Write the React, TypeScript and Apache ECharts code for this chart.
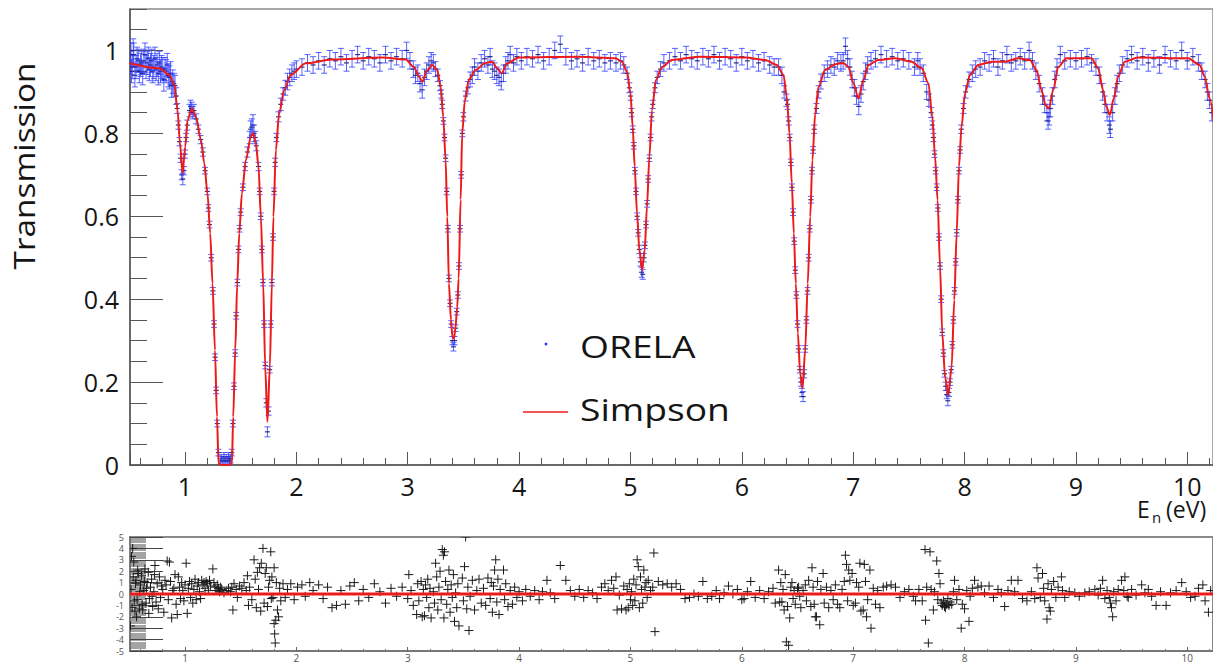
import React, { useEffect, useRef } from "react";
import * as echarts from "echarts";

const xMin = 0.506;
const xMax = 10.231;

const legendNames = ["ORELA", "Simpson"];
const yTitle = "Transmission";
const xTitleParts = ["E", "n", "(eV)"];

// Simpson fit curve (energy in eV, transmission)
const simpsonE = [0.5, 0.769, 0.859, 0.904, 0.933, 0.955, 0.978, 1.002, 1.023, 1.062, 1.098, 1.143, 1.173, 1.202, 1.226, 1.247, 1.269, 1.287, 1.301, 1.33, 1.36, 1.39, 1.421, 1.433, 1.451, 1.469, 1.487, 1.511, 1.547, 1.591, 1.612, 1.636, 1.66, 1.681, 1.702, 1.72, 1.74, 1.762, 1.78, 1.794, 1.816, 1.845, 1.89, 1.95, 2.085, 2.323, 2.772, 2.982, 3.056, 3.101, 3.13, 3.175, 3.22, 3.265, 3.296, 3.319, 3.34, 3.355, 3.37, 3.388, 3.401, 3.415, 3.428, 3.444, 3.457, 3.475, 3.489, 3.513, 3.549, 3.609, 3.699, 3.758, 3.803, 3.843, 3.893, 3.998, 4.536, 4.865, 4.924, 4.969, 5.0, 5.02, 5.038, 5.059, 5.08, 5.104, 5.128, 5.148, 5.17, 5.193, 5.229, 5.283, 5.373, 5.612, 6.031, 6.21, 6.314, 6.374, 6.404, 6.428, 6.449, 6.467, 6.485, 6.503, 6.524, 6.545, 6.569, 6.592, 6.614, 6.634, 6.659, 6.688, 6.748, 6.838, 6.912, 6.957, 7.002, 7.047, 7.092, 7.137, 7.226, 7.376, 7.525, 7.615, 7.675, 7.711, 7.735, 7.758, 7.78, 7.8, 7.825, 7.854, 7.884, 7.908, 7.929, 7.95, 7.973, 8.004, 8.049, 8.123, 8.243, 8.363, 8.482, 8.587, 8.646, 8.691, 8.727, 8.757, 8.796, 8.841, 8.915, 9.139, 9.2, 9.244, 9.274, 9.304, 9.34, 9.379, 9.439, 9.558, 10.007, 10.112, 10.156, 10.201, 10.25];
const simpsonT = [0.969, 0.957, 0.941, 0.917, 0.856, 0.776, 0.704, 0.768, 0.832, 0.86, 0.84, 0.784, 0.728, 0.655, 0.559, 0.438, 0.277, 0.116, 0.004, 0.0, 0.0, 0.0, 0.004, 0.116, 0.277, 0.438, 0.559, 0.655, 0.736, 0.792, 0.8, 0.776, 0.72, 0.599, 0.438, 0.237, 0.104, 0.237, 0.438, 0.599, 0.76, 0.848, 0.904, 0.941, 0.969, 0.978, 0.983, 0.978, 0.96, 0.937, 0.925, 0.952, 0.965, 0.953, 0.912, 0.84, 0.736, 0.599, 0.438, 0.35, 0.31, 0.305, 0.33, 0.38, 0.45, 0.64, 0.8, 0.88, 0.93, 0.953, 0.97, 0.973, 0.957, 0.945, 0.969, 0.983, 0.985, 0.981, 0.973, 0.949, 0.897, 0.816, 0.72, 0.607, 0.519, 0.47, 0.519, 0.622, 0.743, 0.856, 0.929, 0.96, 0.977, 0.985, 0.983, 0.977, 0.965, 0.941, 0.888, 0.8, 0.679, 0.559, 0.438, 0.318, 0.221, 0.185, 0.277, 0.438, 0.599, 0.736, 0.848, 0.912, 0.953, 0.967, 0.97, 0.96, 0.921, 0.884, 0.929, 0.965, 0.977, 0.981, 0.973, 0.957, 0.921, 0.84, 0.744, 0.639, 0.478, 0.318, 0.213, 0.169, 0.237, 0.398, 0.559, 0.72, 0.816, 0.897, 0.941, 0.965, 0.973, 0.973, 0.981, 0.977, 0.953, 0.904, 0.868, 0.86, 0.904, 0.96, 0.981, 0.981, 0.957, 0.904, 0.864, 0.844, 0.884, 0.937, 0.973, 0.983, 0.981, 0.965, 0.937, 0.884, 0.8];

// ORELA measured points: [energy, transmission, error]
const orela: [number, number, number][] = [
  [0.51, 0.97, 0.028], [0.515, 0.99, 0.028], [0.52, 0.95, 0.028], [0.53, 0.96, 0.028], [0.535, 1.0, 0.028], [0.54, 0.99, 0.028], [0.55, 0.94, 0.028], [0.56, 0.96, 0.028], [0.57, 0.98, 0.028], [0.58, 0.975, 0.028], [0.59, 0.95, 0.028], [0.60, 0.965, 0.028], [0.61, 0.97, 0.028], [0.62, 0.945, 0.028], [0.63, 0.975, 0.028], [0.64, 0.99, 0.028], [0.65, 0.96, 0.028], [0.66, 0.97, 0.028], [0.67, 0.98, 0.028], [0.68, 0.955, 0.028], [0.69, 0.965, 0.028], [0.70, 0.975, 0.028], [0.71, 0.95, 0.028], [0.72, 0.96, 0.028], [0.73, 0.98, 0.028], [0.74, 0.955, 0.028], [0.75, 0.965, 0.028], [0.76, 0.945, 0.028], [0.77, 0.97, 0.028], [0.78, 0.95, 0.028], [0.79, 0.96, 0.028], [0.80, 0.955, 0.028], [0.81, 0.93, 0.028], [0.82, 0.955, 0.028], [0.83, 0.95, 0.028], [0.84, 0.965, 0.028], [0.85, 0.94, 0.028], [0.86, 0.935, 0.028], [0.87, 0.945, 0.028], [0.88, 0.915, 0.028], [0.89, 0.925, 0.028], [0.90, 0.92, 0.025], [0.91, 0.915, 0.025], [0.92, 0.89, 0.02],
  [0.93, 0.86, 0.012], [0.94, 0.82, 0.01], [0.95, 0.78, 0.01], [0.96, 0.74, 0.01], [0.97, 0.70, 0.012], [0.98, 0.69, 0.014], [0.99, 0.71, 0.01], [1.0, 0.75, 0.01], [1.01, 0.79, 0.01], [1.02, 0.82, 0.012], [1.04, 0.855, 0.015], [1.05, 0.865, 0.015], [1.06, 0.86, 0.015], [1.07, 0.85, 0.015], [1.08, 0.855, 0.015], [1.1, 0.835, 0.012], [1.12, 0.81, 0.01], [1.14, 0.785, 0.01], [1.16, 0.755, 0.01], [1.18, 0.71, 0.008], [1.2, 0.66, 0.008], [1.21, 0.62, 0.008], [1.22, 0.58, 0.008], [1.235, 0.5, 0.008], [1.25, 0.42, 0.008], [1.26, 0.34, 0.008], [1.27, 0.26, 0.008], [1.28, 0.18, 0.008], [1.29, 0.1, 0.008], [1.3, 0.03, 0.008], [1.32, 0.01, 0.01], [1.33, 0.015, 0.01], [1.34, 0.01, 0.01], [1.35, 0.02, 0.01], [1.36, 0.01, 0.01], [1.37, 0.015, 0.01], [1.38, 0.01, 0.01], [1.39, 0.02, 0.01], [1.4, 0.01, 0.01], [1.41, 0.015, 0.01], [1.42, 0.03, 0.008], [1.43, 0.1, 0.008], [1.44, 0.19, 0.008], [1.45, 0.27, 0.008], [1.46, 0.36, 0.008], [1.47, 0.44, 0.008], [1.48, 0.52, 0.008], [1.49, 0.57, 0.008], [1.5, 0.61, 0.008], [1.52, 0.67, 0.008], [1.54, 0.72, 0.01], [1.56, 0.755, 0.012], [1.58, 0.79, 0.015], [1.59, 0.81, 0.02], [1.6, 0.815, 0.02], [1.61, 0.82, 0.025], [1.62, 0.8, 0.02], [1.63, 0.79, 0.015], [1.64, 0.77, 0.012], [1.66, 0.72, 0.01], [1.67, 0.66, 0.008], [1.68, 0.6, 0.008], [1.69, 0.52, 0.008], [1.7, 0.44, 0.008], [1.71, 0.34, 0.008], [1.72, 0.24, 0.008], [1.73, 0.15, 0.01], [1.74, 0.08, 0.012], [1.75, 0.13, 0.01], [1.76, 0.23, 0.008], [1.77, 0.34, 0.008], [1.78, 0.44, 0.008], [1.79, 0.55, 0.008], [1.8, 0.66, 0.008], [1.81, 0.73, 0.01], [1.82, 0.79, 0.01], [1.84, 0.84, 0.012], [1.86, 0.87, 0.015], [1.88, 0.895, 0.015], [1.9, 0.91, 0.018], [1.92, 0.925, 0.02], [1.94, 0.935, 0.02], [1.96, 0.945, 0.02], [1.98, 0.95, 0.02], [2.0, 0.955, 0.02],
  [2.05, 0.96, 0.02], [2.1, 0.97, 0.02], [2.15, 0.965, 0.02], [2.2, 0.975, 0.02], [2.25, 0.965, 0.02], [2.3, 0.98, 0.02], [2.35, 0.975, 0.02], [2.4, 0.985, 0.02], [2.45, 0.97, 0.02], [2.5, 0.98, 0.02], [2.55, 0.99, 0.02], [2.6, 0.975, 0.02], [2.65, 0.985, 0.02], [2.7, 0.98, 0.02], [2.75, 0.97, 0.02], [2.8, 0.99, 0.02], [2.85, 0.975, 0.02], [2.9, 0.985, 0.02], [2.95, 0.98, 0.02], [2.99, 1.0, 0.02], [3.02, 0.975, 0.02], [3.05, 0.955, 0.02], [3.07, 0.94, 0.02], [3.09, 0.945, 0.02], [3.11, 0.92, 0.02], [3.13, 0.905, 0.02], [3.15, 0.935, 0.02], [3.17, 0.95, 0.02], [3.19, 0.965, 0.02], [3.21, 0.975, 0.02], [3.23, 0.97, 0.02], [3.25, 0.955, 0.018], [3.27, 0.94, 0.015], [3.29, 0.915, 0.012], [3.3, 0.895, 0.01], [3.31, 0.87, 0.01], [3.32, 0.83, 0.008], [3.33, 0.79, 0.008], [3.34, 0.74, 0.008], [3.35, 0.66, 0.008], [3.36, 0.57, 0.008], [3.37, 0.45, 0.008], [3.38, 0.39, 0.008], [3.39, 0.34, 0.008], [3.4, 0.3, 0.01], [3.41, 0.285, 0.01], [3.42, 0.3, 0.01], [3.43, 0.33, 0.008], [3.44, 0.37, 0.008], [3.45, 0.41, 0.008], [3.46, 0.48, 0.008], [3.47, 0.57, 0.008], [3.48, 0.7, 0.008], [3.49, 0.8, 0.008], [3.5, 0.84, 0.01], [3.52, 0.89, 0.012], [3.54, 0.91, 0.015], [3.56, 0.93, 0.018], [3.58, 0.94, 0.02], [3.6, 0.96, 0.02], [3.63, 0.95, 0.02], [3.66, 0.97, 0.02], [3.69, 0.98, 0.02], [3.72, 0.965, 0.02], [3.74, 0.985, 0.02], [3.76, 0.955, 0.02], [3.78, 0.95, 0.02], [3.8, 0.94, 0.02], [3.82, 0.935, 0.02], [3.84, 0.925, 0.02], [3.86, 0.945, 0.02], [3.88, 0.965, 0.02], [3.9, 0.975, 0.02], [3.92, 0.99, 0.02], [3.95, 0.97, 0.02], [3.98, 0.985, 0.02],
  [4.02, 0.975, 0.02], [4.07, 0.985, 0.02], [4.12, 0.98, 0.02], [4.17, 0.99, 0.02], [4.22, 0.975, 0.02], [4.27, 0.985, 0.02], [4.32, 1.0, 0.02], [4.37, 1.015, 0.02], [4.42, 0.985, 0.02], [4.47, 0.975, 0.02], [4.52, 0.98, 0.02], [4.57, 0.97, 0.02], [4.62, 0.985, 0.02], [4.67, 0.975, 0.02], [4.72, 0.98, 0.02], [4.77, 0.97, 0.02], [4.82, 0.975, 0.02], [4.87, 0.97, 0.02], [4.91, 0.975, 0.02], [4.94, 0.965, 0.02], [4.97, 0.945, 0.015], [4.99, 0.91, 0.012], [5.0, 0.89, 0.01], [5.01, 0.85, 0.01], [5.02, 0.81, 0.008], [5.03, 0.77, 0.008], [5.04, 0.71, 0.008], [5.05, 0.66, 0.008], [5.06, 0.6, 0.008], [5.07, 0.56, 0.008], [5.08, 0.52, 0.01], [5.09, 0.49, 0.01], [5.1, 0.465, 0.012], [5.11, 0.46, 0.012], [5.12, 0.5, 0.01], [5.13, 0.53, 0.008], [5.14, 0.58, 0.008], [5.15, 0.63, 0.008], [5.16, 0.69, 0.008], [5.17, 0.74, 0.008], [5.18, 0.79, 0.008], [5.19, 0.84, 0.01], [5.2, 0.87, 0.01], [5.22, 0.91, 0.012], [5.24, 0.935, 0.015], [5.27, 0.955, 0.018], [5.3, 0.97, 0.02], [5.35, 0.975, 0.02], [5.4, 0.985, 0.02], [5.45, 0.975, 0.02], [5.5, 0.99, 0.02], [5.55, 0.98, 0.02], [5.6, 0.975, 0.02], [5.65, 0.985, 0.02], [5.7, 0.98, 0.02], [5.75, 0.99, 0.02], [5.8, 0.975, 0.02], [5.85, 0.985, 0.02], [5.9, 0.98, 0.02], [5.95, 0.97, 0.02], [6.0, 0.985, 0.02], [6.05, 0.975, 0.02], [6.1, 0.98, 0.02], [6.15, 0.97, 0.02], [6.2, 0.975, 0.02], [6.25, 0.965, 0.02], [6.29, 0.96, 0.02], [6.33, 0.96, 0.02], [6.36, 0.94, 0.02], [6.38, 0.9, 0.015], [6.4, 0.88, 0.015], [6.41, 0.87, 0.012], [6.42, 0.83, 0.01], [6.43, 0.79, 0.008], [6.44, 0.73, 0.008], [6.45, 0.67, 0.008], [6.46, 0.61, 0.008], [6.47, 0.54, 0.008], [6.48, 0.47, 0.008], [6.49, 0.41, 0.008], [6.5, 0.34, 0.008], [6.51, 0.28, 0.008], [6.52, 0.23, 0.008], [6.53, 0.2, 0.01], [6.54, 0.175, 0.01], [6.55, 0.165, 0.012], [6.56, 0.22, 0.01], [6.57, 0.28, 0.008], [6.58, 0.35, 0.008], [6.59, 0.42, 0.008], [6.6, 0.5, 0.008], [6.61, 0.57, 0.008], [6.62, 0.64, 0.008], [6.63, 0.71, 0.008], [6.64, 0.76, 0.008], [6.65, 0.81, 0.01], [6.67, 0.86, 0.012], [6.69, 0.9, 0.015], [6.71, 0.925, 0.018], [6.74, 0.945, 0.02], [6.77, 0.955, 0.02], [6.8, 0.965, 0.02], [6.83, 0.96, 0.02], [6.86, 0.975, 0.02], [6.89, 0.97, 0.02], [6.91, 0.975, 0.02], [6.93, 1.01, 0.02], [6.95, 0.98, 0.02], [6.97, 0.96, 0.02], [6.99, 0.93, 0.02], [7.01, 0.91, 0.02], [7.03, 0.89, 0.02], [7.05, 0.865, 0.02], [7.07, 0.895, 0.02], [7.09, 0.925, 0.02], [7.11, 0.95, 0.02], [7.13, 0.965, 0.02], [7.16, 0.975, 0.02], [7.2, 0.98, 0.02], [7.25, 0.99, 0.02], [7.3, 0.98, 0.02], [7.35, 0.985, 0.02], [7.4, 0.975, 0.02], [7.45, 0.98, 0.02], [7.5, 0.975, 0.02], [7.55, 0.96, 0.02], [7.58, 0.975, 0.02], [7.6, 0.96, 0.02], [7.63, 0.945, 0.02], [7.66, 0.9, 0.018], [7.68, 0.88, 0.015], [7.7, 0.85, 0.012], [7.71, 0.82, 0.01], [7.72, 0.79, 0.01], [7.73, 0.75, 0.008], [7.74, 0.71, 0.008], [7.75, 0.67, 0.008], [7.76, 0.62, 0.008], [7.77, 0.55, 0.008], [7.78, 0.48, 0.008], [7.79, 0.4, 0.008], [7.8, 0.32, 0.008], [7.81, 0.27, 0.008], [7.82, 0.22, 0.008], [7.83, 0.19, 0.01], [7.84, 0.17, 0.01], [7.85, 0.155, 0.012], [7.86, 0.175, 0.01], [7.87, 0.2, 0.008], [7.88, 0.23, 0.008], [7.89, 0.29, 0.008], [7.9, 0.35, 0.008], [7.91, 0.42, 0.008], [7.92, 0.49, 0.008], [7.93, 0.56, 0.008], [7.94, 0.64, 0.008], [7.95, 0.71, 0.008], [7.96, 0.76, 0.008], [7.97, 0.81, 0.01], [7.99, 0.86, 0.012], [8.01, 0.9, 0.015], [8.04, 0.93, 0.018], [8.07, 0.945, 0.02], [8.1, 0.955, 0.02], [8.14, 0.96, 0.02], [8.18, 0.975, 0.02], [8.22, 0.97, 0.02], [8.26, 0.98, 0.02], [8.3, 0.96, 0.02], [8.34, 0.975, 0.02], [8.38, 0.99, 0.02], [8.42, 0.97, 0.02], [8.46, 0.975, 0.02], [8.5, 0.985, 0.02], [8.54, 0.975, 0.02], [8.58, 1.0, 0.02], [8.61, 0.975, 0.02], [8.64, 0.95, 0.02], [8.67, 0.92, 0.02], [8.7, 0.89, 0.02], [8.72, 0.87, 0.02], [8.74, 0.85, 0.02], [8.75, 0.83, 0.02], [8.76, 0.84, 0.02], [8.77, 0.86, 0.02], [8.79, 0.89, 0.02], [8.81, 0.93, 0.02], [8.83, 0.96, 0.02], [8.86, 0.99, 0.02], [8.9, 0.975, 0.02], [8.95, 0.98, 0.02], [9.0, 0.975, 0.02], [9.05, 0.98, 0.02], [9.1, 0.985, 0.02], [9.14, 0.97, 0.02], [9.18, 0.96, 0.02], [9.21, 0.94, 0.02], [9.24, 0.9, 0.02], [9.26, 0.87, 0.02], [9.28, 0.85, 0.02], [9.3, 0.82, 0.02], [9.31, 0.81, 0.02], [9.33, 0.85, 0.02], [9.35, 0.89, 0.02], [9.37, 0.92, 0.02], [9.39, 0.945, 0.02], [9.42, 0.965, 0.02], [9.46, 0.98, 0.02], [9.5, 0.99, 0.02], [9.55, 0.975, 0.02], [9.6, 0.985, 0.02], [9.65, 0.97, 0.02], [9.7, 0.98, 0.02], [9.75, 0.965, 0.02], [9.8, 0.99, 0.02], [9.85, 0.98, 0.02], [9.9, 0.975, 0.02], [9.95, 1.0, 0.02], [10.0, 0.975, 0.02], [10.05, 0.985, 0.02], [10.1, 0.97, 0.02], [10.13, 0.95, 0.02], [10.16, 0.93, 0.02], [10.18, 0.9, 0.02], [10.2, 0.88, 0.02], [10.22, 0.85, 0.02],
];

// residuals (normalised): [energy, residual]
const residuals: [number, number][] = [
  [0.51, -2.8], [0.515, 0.4], [0.52, 3.3], [0.525, -1.2], [0.53, 4.0], [0.535, 1.5], [0.54, 2.8], [0.545, -0.6], [0.55, -1.5], [0.555, 0.9], [0.56, 1.2], [0.565, -2.0], [0.57, -0.5], [0.575, 2.1], [0.58, 1.8], [0.59, -1.3], [0.595, 0.2], [0.6, 0.8], [0.61, 1.6], [0.615, -0.9], [0.62, -1.4], [0.63, 0.3], [0.635, 1.1], [0.64, 2.2], [0.65, -0.8], [0.655, 0.5], [0.66, 1.0], [0.67, 1.9], [0.675, -1.7], [0.68, -0.4], [0.69, 0.6], [0.7, 1.3], [0.705, -0.2], [0.71, -1.1], [0.72, 0.2], [0.725, 1.7], [0.73, 2.5], [0.74, -0.7], [0.75, 0.9], [0.76, -1.3], [0.77, 1.5], [0.78, -0.3], [0.79, 0.7], [0.8, 0.4], [0.81, -1.6], [0.82, 1.2], [0.83, 0.8], [0.84, 2.9], [0.85, -0.5], [0.86, 2.8], [0.87, 1.1], [0.88, -2.1], [0.89, 0.3], [0.9, 0.5], [0.91, 1.7], [0.92, -0.9], [0.93, -1.8], [0.94, 1.5], [0.95, 0.6], [0.96, -0.4], [0.97, 1.0], [0.98, 0.3], [0.99, -0.6], [1.0, 0.8], [1.01, 2.7], [1.02, -1.7], [1.03, 0.5], [1.04, 1.1], [1.05, -0.3], [1.06, 0.9], [1.07, -0.8], [1.08, 0.4], [1.09, 1.3], [1.1, -0.5], [1.11, 0.7], [1.12, 1.0], [1.13, 0.2], [1.14, -0.4], [1.15, 1.2], [1.16, 0.8], [1.17, 1.0], [1.18, 0.5], [1.19, 1.1], [1.2, 0.9], [1.21, 0.3], [1.22, 1.2], [1.23, 0.7], [1.25, 2.2], [1.26, 1.0], [1.27, 0.6], [1.28, 0.3], [1.29, 0.8], [1.3, 0.5], [1.31, 0.2], [1.32, 0.6], [1.33, 0.4], [1.35, 0.1], [1.37, 0.3], [1.39, 0.5], [1.41, 0.2], [1.42, 0.6], [1.43, -1.4], [1.44, 0.9], [1.46, 0.4], [1.47, -0.3], [1.49, 0.7], [1.51, 0.5], [1.53, 1.0], [1.55, 0.3], [1.56, 1.6], [1.57, -1.0], [1.58, 0.6], [1.6, -0.5], [1.62, 3.0], [1.63, 1.3], [1.64, -1.2], [1.65, 1.9], [1.66, 0.4], [1.67, 2.3], [1.68, -1.5], [1.685, 2.7], [1.7, 4.0], [1.71, -0.8], [1.72, 1.8], [1.73, 2.3], [1.74, -1.1], [1.75, 0.6], [1.76, 1.2], [1.77, 3.7], [1.775, -0.4], [1.78, 1.5], [1.8, 2.3], [1.79, -0.3], [1.8, -2.6], [1.805, -3.5], [1.81, -4.3], [1.815, -2.3], [1.82, 1.0], [1.83, -1.4], [1.84, -2.0], [1.85, 0.5], [1.86, -0.6], [1.88, 0.9], [1.9, -0.3], [1.92, 0.4], [1.95, 0.9], [1.98, -0.5], [2.01, 0.6], [2.05, 0.8], [2.08, -0.2], [2.12, 1.0], [2.15, 0.3], [2.2, 0.8], [2.24, -0.4], [2.28, 0.6], [2.32, -1.2], [2.36, -1.0], [2.4, 0.3], [2.44, -0.9], [2.48, 0.7], [2.52, 1.0], [2.56, -0.6], [2.6, 0.4], [2.65, -0.3], [2.7, 0.9], [2.75, 0.2], [2.8, -0.8], [2.85, 0.5], [2.9, -0.2], [2.95, 0.6],
  [3.0, -0.4], [3.01, 1.7], [3.03, 0.3], [3.05, -1.0], [3.08, -1.8], [3.09, 0.9], [3.1, -0.6], [3.12, 1.1], [3.13, -2.0], [3.14, 0.4], [3.15, -1.9], [3.16, 0.8], [3.17, -0.3], [3.18, 1.3], [3.19, -1.2], [3.2, 0.5], [3.21, -2.1], [3.25, 2.7], [3.23, 0.2], [3.24, -0.8], [3.26, 1.5], [3.27, -1.4], [3.28, 0.6], [3.29, 2.0], [3.3, -0.5], [3.31, 3.9], [3.32, 3.4], [3.325, -2.1], [3.33, 3.7], [3.34, 1.1], [3.35, -0.9], [3.36, 0.4], [3.37, 2.1], [3.38, -1.6], [3.39, 0.8], [3.4, -0.3], [3.41, 1.7], [3.42, -2.4], [3.43, 0.1], [3.44, -1.2], [3.45, 0.9], [3.46, -2.8], [3.52, 5.0], [3.55, -3.2], [3.49, 1.4], [3.5, -0.6], [3.51, 2.4], [3.53, -1.3], [3.54, 0.6], [3.56, -0.2], [3.58, 1.2], [3.6, -1.4], [3.62, 0.3], [3.64, 1.3], [3.66, -0.8], [3.68, 0.5], [3.7, -1.0], [3.72, 1.4], [3.74, -0.4], [3.79, 3.0], [3.75, 1.0], [3.76, -1.6], [3.77, 0.7], [3.78, 2.1], [3.8, -0.7], [3.81, 1.3], [3.82, -1.8], [3.83, 0.4], [3.86, 2.1], [3.87, -0.5], [3.88, 0.9], [3.9, -1.1], [3.92, 0.3], [3.94, -0.9], [3.96, 0.6], [3.98, -0.3], [4.0, 0.2], [4.03, -0.6], [4.06, 0.4], [4.1, -0.2], [4.14, 0.3], [4.18, -0.5], [4.21, 0.2], [4.25, 1.2], [4.28, 0.1], [4.32, -0.4], [4.37, 2.5], [4.42, 1.2], [4.46, 0.3], [4.5, -0.2], [4.54, 0.4], [4.58, -0.3], [4.62, 0.3], [4.66, 0.1], [4.7, -0.4], [4.74, 0.6], [4.77, 0.9], [4.8, 0.3], [4.83, 1.2], [4.85, 0.5], [4.87, 1.5], [4.88, -1.4], [4.9, -0.1], [4.92, -1.3], [4.94, 0.7], [4.96, -1.4], [4.97, 0.4], [4.98, -1.2], [4.99, 0.9], [5.06, 3.0], [5.0, -0.5], [5.07, 2.4], [5.01, 0.2], [5.02, -1.0], [5.03, 1.3], [5.04, -0.6], [5.05, 0.8], [5.08, -1.2], [5.09, 1.5], [5.1, 0.4], [5.11, -0.8], [5.12, 2.1], [5.13, 0.6], [5.14, 1.0], [5.21, 3.6], [5.15, -0.3], [5.22, -3.3], [5.16, 1.2], [5.18, 0.3], [5.2, 0.6], [5.25, 1.1], [5.29, 0.8], [5.33, 0.9], [5.37, 0.6], [5.41, 0.9], [5.45, 0.4], [5.49, -0.4], [5.53, -0.3], [5.57, 0.0], [5.61, -0.2], [5.65, 1.1], [5.69, -0.4], [5.73, -0.2], [5.77, 0.3], [5.8, -0.4], [5.84, 0.1], [5.88, 0.7], [5.92, 0.0], [5.96, 0.4], [6.0, -0.5], [6.02, -0.4], [6.05, 0.2], [6.08, 1.1], [6.12, -0.3], [6.16, 0.3], [6.2, -0.4], [6.24, 0.2],
  [6.28, 0.5], [6.3, -0.8], [6.33, 2.1], [6.34, -0.7], [6.35, 1.0], [6.36, -0.7], [6.37, 0.4], [6.38, -1.4], [6.39, 1.7], [6.4, -4.2], [6.41, -1.1], [6.42, -4.5], [6.43, -2.1], [6.44, 0.6], [6.45, 1.0], [6.46, -0.4], [6.47, 0.3], [6.48, -0.9], [6.5, 0.5], [6.51, 0.6], [6.52, -0.2], [6.53, -1.2], [6.55, 0.3], [6.57, 0.8], [6.58, -0.6], [6.6, 1.2], [6.62, -1.1], [6.63, 2.3], [6.64, 0.6], [6.65, -0.9], [6.66, -2.0], [6.67, -2.0], [6.68, 1.1], [6.7, -2.7], [6.71, 0.4], [6.73, 1.8], [6.74, -0.8], [6.76, 0.6], [6.78, -1.2], [6.8, 0.3], [6.82, -0.5], [6.84, 0.8], [6.86, -0.9], [6.88, -1.2], [6.9, 0.4], [6.92, 1.1], [6.93, 3.4], [6.94, 2.6], [6.95, -0.6], [6.96, 2.1], [6.97, 1.2], [6.99, 1.8], [7.0, -1.0], [7.02, -0.8], [7.03, 1.0], [7.05, 0.6], [7.06, 2.7], [7.07, -1.5], [7.09, -1.4], [7.1, 2.6], [7.11, 1.1], [7.12, -2.0], [7.13, -0.5], [7.15, 2.1], [7.16, -3.0], [7.18, 0.5], [7.2, -0.9], [7.22, 0.3], [7.24, -1.2], [7.27, 0.6], [7.3, 0.7], [7.34, 0.8], [7.38, 0.6], [7.42, -0.3], [7.46, 0.2], [7.5, 0.4], [7.54, -0.2], [7.56, -0.6], [7.59, 0.4], [7.62, -0.6], [7.645, 3.9], [7.65, -2.3], [7.66, 0.6], [7.675, -4.3], [7.69, 3.7], [7.7, 0.4], [7.72, -1.4], [7.73, 0.2], [7.75, 2.9], [7.76, -0.5], [7.77, 1.8], [7.78, 0.9], [7.79, -0.8], [7.8, -1.0], [7.81, -0.6], [7.82, -1.1], [7.825, -0.8], [7.83, -1.2], [7.84, -0.9], [7.85, -0.4], [7.86, -1.0], [7.87, -0.7], [7.885, -0.9], [7.9, 0.2], [7.91, 1.2], [7.93, -0.5], [7.95, 0.4], [7.97, -3.0], [7.98, -0.9], [8.0, -1.3], [8.02, 0.3], [8.04, -2.4], [8.05, -0.2], [8.07, 0.5], [8.09, 1.2], [8.12, 0.6], [8.15, 0.7], [8.18, 0.1], [8.22, 0.7], [8.26, -0.3], [8.3, 0.4], [8.33, 0.1], [8.36, -1.1], [8.39, 0.3], [8.42, 1.2], [8.45, 0.2], [8.48, 1.2], [8.52, -0.4], [8.56, -0.6], [8.6, 0.2], [8.63, -0.4], [8.65, 2.3], [8.66, 1.4], [8.68, -0.3], [8.7, 1.8], [8.71, 0.5], [8.72, -0.6], [8.74, -2.2], [8.75, 0.9], [8.76, -1.2], [8.77, -1.5], [8.78, 0.4], [8.8, 1.1], [8.82, -0.3], [8.84, 0.6], [8.87, 1.5], [8.88, 0.3], [8.9, -0.3], [8.94, 0.2], [8.99, 0.1], [9.03, -0.2], [9.08, 0.1], [9.12, 0.2], [9.17, 0.4], [9.2, -0.1], [9.22, 0.5], [9.24, 1.2], [9.26, -0.4], [9.28, 0.3], [9.3, -0.3], [9.31, -0.8], [9.32, -1.2], [9.33, -2.0], [9.34, 0.2], [9.36, -0.6], [9.38, 0.4], [9.41, 1.2], [9.43, 0.3], [9.44, 1.5], [9.46, -0.2], [9.47, -0.3], [9.5, 0.4], [9.54, -0.1], [9.59, 0.8], [9.62, 0.1], [9.65, 0.4], [9.68, -0.2], [9.72, -1.0], [9.76, 0.2], [9.81, -1.0], [9.85, 0.1], [9.9, 0.3], [9.95, 1.0], [9.99, 0.2], [10.03, -0.3], [10.07, -0.2], [10.1, 0.5], [10.14, 0.8], [10.16, -0.6], [10.19, -1.6], [10.21, 0.3],
];

const residualFit: [number, number][] = [[xMin, 0], [xMax, 0]];

const FONT = "'Open Sans', 'Noto Sans', sans-serif";

export default function App() {
  const ref = useRef<HTMLDivElement>(null);

  useEffect(() => {
    const chart = echarts.init(ref.current as HTMLDivElement, undefined, { renderer: "svg" });

    const simpsonData = simpsonE.map((e, i) => [e, simpsonT[i]]);

    const axisLineStyle = { color: "#555", width: 1.5 };

    const option: any = {
      animation: false,
      backgroundColor: "#fff",
      grid: [
        { left: 130, top: 9, width: 1083, height: 456, show: true, borderColor: "#8a8a8a", borderWidth: 1.5, backgroundColor: "transparent" },
        { left: 130, top: 537, width: 1083, height: 114, show: true, borderColor: "#8a8a8a", borderWidth: 2, backgroundColor: "transparent" },
      ],
      xAxis: [
        {
          type: "value", gridIndex: 0, min: xMin, max: xMax, splitNumber: 10, minInterval: 1, maxInterval: 1,
          axisLine: { show: true, onZero: false, lineStyle: axisLineStyle },
          axisTick: { show: true, inside: true, length: 13, lineStyle: { color: "#555", width: 1 } },
          minorTick: { show: true, splitNumber: 5, length: 7, lineStyle: { color: "#555", width: 1 } },
          splitLine: { show: false },
          axisLabel: { fontSize: 25, lineHeight: 22, color: "#151515", margin: 10, fontFamily: FONT, showMinLabel: false, showMaxLabel: false },
        },
        {
          type: "value", gridIndex: 1, min: xMin, max: xMax, splitNumber: 10, minInterval: 1, maxInterval: 1,
          axisLine: { show: true, onZero: false, lineStyle: { color: "#777", width: 2 } },
          axisTick: { show: true, inside: true, length: 4, lineStyle: { color: "#666", width: 1 } },
          minorTick: { show: true, splitNumber: 5, length: 2, lineStyle: { color: "#777", width: 1 } },
          splitLine: { show: false },
          axisLabel: { fontSize: 10, color: "#555", margin: 2, fontFamily: FONT, showMinLabel: false, showMaxLabel: false },
        },
      ],
      yAxis: [
        {
          type: "value", gridIndex: 0, min: 0, max: 1.1, interval: 0.2,
          axisLine: { show: true, lineStyle: axisLineStyle },
          axisTick: { show: true, inside: true, length: 33, lineStyle: { color: "#555", width: 1 } },
          splitLine: { show: false },
          axisLabel: { fontSize: 25, color: "#151515", margin: 11, fontFamily: FONT, showMaxLabel: false },
        },
        {
          type: "value", gridIndex: 0, min: 0, max: 1.1, interval: 0.05, position: "left",
          axisLine: { show: false },
          axisTick: { show: true, inside: true, length: 17, lineStyle: { color: "#555", width: 1 } },
          splitLine: { show: false },
          axisLabel: { show: false },
        },
        {
          type: "value", gridIndex: 1, min: -5, max: 5, interval: 1,
          axisLine: { show: true, lineStyle: { color: "#777", width: 1.5 } },
          axisTick: { show: true, inside: true, length: 33, lineStyle: { color: "#444", width: 1 } },
          minorTick: { show: true, splitNumber: 10, length: 16, lineStyle: { color: "#666", width: 0.6 } },
          splitLine: { show: false },
          axisLabel: { fontSize: 9, lineHeight: 9, color: "#555", margin: 6, fontFamily: FONT, showMinLabel: true, showMaxLabel: true },
        },
      ],
      series: [
        {
          type: "custom",
          name: legendNames[0],
          xAxisIndex: 0,
          yAxisIndex: 0,
          clip: true,
          z: 2,
          data: orela,
          encode: { x: 0, y: 1 },
          renderItem: (params: any, api: any) => {
            const e = api.value(0);
            const t = api.value(1);
            const er = api.value(2);
            const c = api.coord([e, t]);
            const hi = api.coord([e, t + er]);
            const lo = api.coord([e, t - er]);
            const bar = { stroke: "#2f3dff", lineWidth: 1, opacity: 0.8 };
            const cw = 3;
            return {
              type: "group",
              children: [
                { type: "line", shape: { x1: c[0], y1: hi[1], x2: c[0], y2: lo[1] }, style: bar },
                { type: "line", shape: { x1: c[0] - cw, y1: hi[1], x2: c[0] + cw, y2: hi[1] }, style: bar },
                { type: "line", shape: { x1: c[0] - cw, y1: lo[1], x2: c[0] + cw, y2: lo[1] }, style: bar },
                { type: "line", shape: { x1: c[0] - 2.5, y1: c[1], x2: c[0] + 2.5, y2: c[1] }, style: { stroke: "#1b1b78", lineWidth: 1.2, opacity: 0.9 } },
              ],
            };
          },
        },
        {
          type: "line",
          name: legendNames[1],
          xAxisIndex: 0,
          yAxisIndex: 0,
          z: 3,
          data: simpsonData,
          showSymbol: false,
          smooth: 0.3,
          smoothMonotone: "x",
          lineStyle: { color: "#ee1a1a", width: 2 },
        },
        {
          type: "custom",
          name: "residuals",
          xAxisIndex: 1,
          yAxisIndex: 2,
          clip: true,
          z: 2,
          data: residuals,
          encode: { x: 0, y: 1 },
          renderItem: (params: any, api: any) => {
            const c = api.coord([api.value(0), api.value(1)]);
            const s = 4.5;
            const st = { stroke: "#1a1a1a", lineWidth: 1 };
            return {
              type: "group",
              children: [
                { type: "line", shape: { x1: c[0] - s, y1: c[1], x2: c[0] + s, y2: c[1] }, style: st },
                { type: "line", shape: { x1: c[0], y1: c[1] - s, x2: c[0], y2: c[1] + s }, style: st },
              ],
            };
          },
        },
        {
          type: "line",
          name: "residual fit",
          xAxisIndex: 1,
          yAxisIndex: 2,
          z: 3,
          data: residualFit,
          showSymbol: false,
          lineStyle: { color: "#ee1a1a", width: 3 },
        },
      ],
      graphic: [
        {
          type: "text",
          x: 24,
          y: 166,
          rotation: Math.PI / 2,
          scaleX: 1.15,
          style: { text: yTitle, fontSize: 29, fontFamily: FONT, fill: "#151515", align: "center", verticalAlign: "middle" },
        },
        { type: "text", x: 1137, y: 509, style: { text: xTitleParts[0], fontSize: 23, lineHeight: 19, fontFamily: FONT, fill: "#151515", align: "left", verticalAlign: "middle" } },
        { type: "text", x: 1152, y: 517, style: { text: xTitleParts[1], fontSize: 15, lineHeight: 13, fontFamily: FONT, fill: "#151515", align: "left", verticalAlign: "middle" } },
        { type: "text", x: 1166, y: 509, style: { text: xTitleParts[2], fontSize: 23, lineHeight: 19, fontFamily: FONT, fill: "#151515", align: "left", verticalAlign: "middle" } },
        { type: "circle", shape: { cx: 546, cy: 344, r: 1.5 }, style: { fill: "#2f3dff" } },
        { type: "text", x: 580, y: 346, scaleX: 1.2, style: { text: legendNames[0], fontSize: 31, fontFamily: FONT, fill: "#151515", align: "left", verticalAlign: "middle" } },
        { type: "line", shape: { x1: 523, y1: 412, x2: 568, y2: 412 }, style: { stroke: "#ee1a1a", lineWidth: 1.5 } },
        { type: "text", x: 580, y: 409, scaleX: 1.2, style: { text: legendNames[1], fontSize: 31, fontFamily: FONT, fill: "#151515", align: "left", verticalAlign: "middle" } },
      ],
    };

    chart.setOption(option);
    return () => chart.dispose();
  }, []);

  return (
    <div
      ref={ref}
      style={{ position: "fixed", left: 0, top: 0, width: 1213, height: 666, background: "#fff" }}
    />
  );
}
